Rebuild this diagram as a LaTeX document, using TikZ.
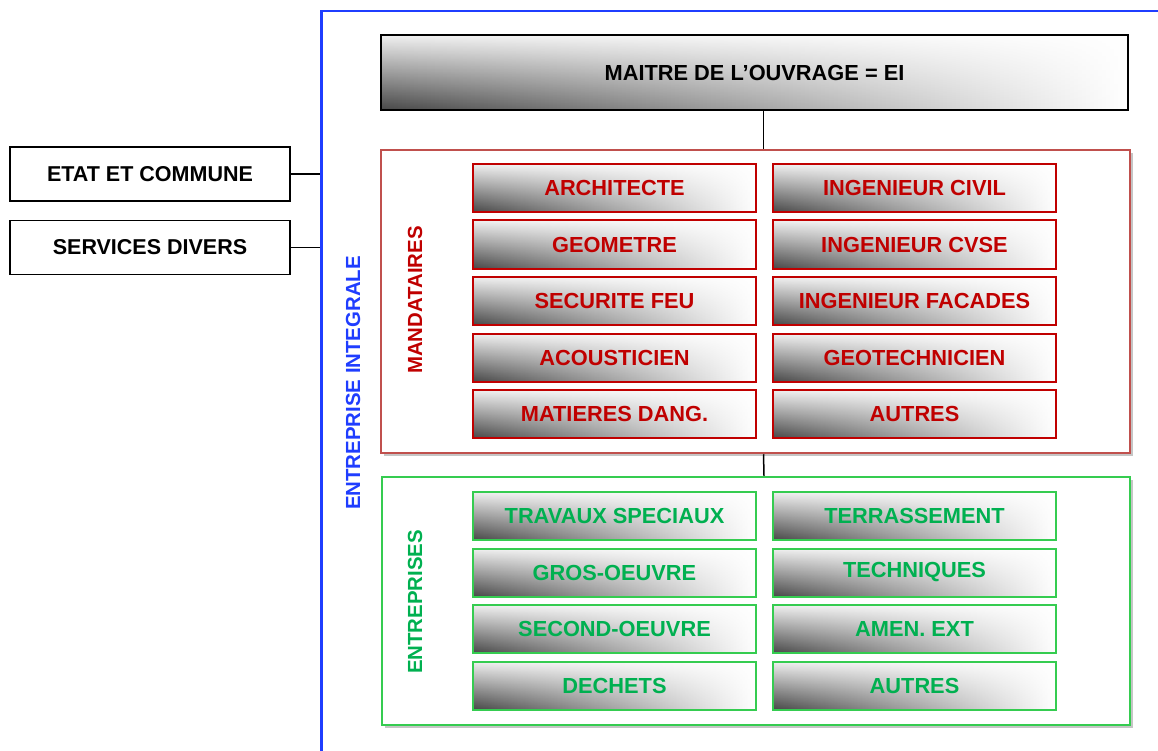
\documentclass[tikz,border=0pt]{standalone}
\usepackage{fontspec}
\setmainfont{Liberation Sans}
\usetikzlibrary{shadows,fadings}

\definecolor{eiblue}{HTML}{1F3DFF}
\definecolor{mandframe}{HTML}{C0504D}
\definecolor{mandred}{HTML}{C00000}
\definecolor{entrframe}{HTML}{35CC50}
\definecolor{entrgreen}{HTML}{00B050}

\tikzset{
    grad/.style={path picture={
        \fill[left color=black!72, right color=white]
            (path picture bounding box.south west) rectangle (path picture bounding box.north east);
        \fill[white, fill opacity=0.92, path fading=south]
            (path picture bounding box.south west) rectangle (path picture bounding box.north east);
    }},
    lbl/.style={font=\fontsize{21.8}{26}\selectfont\bfseries},
    vlbl/.style={font=\fontsize{20.4}{24}\selectfont\bfseries, rotate=90},
    sidebox/.style={draw, line width=1.8pt, minimum width=280pt, minimum height=54pt,
        inner sep=0pt, font=\fontsize{21.5}{26}\selectfont\bfseries},
    mbox/.style={grad, draw=mandred, line width=2pt, minimum width=283pt, minimum height=48pt,
        inner sep=0pt, text=mandred, lbl},
    ebox/.style={grad, draw=entrframe, line width=2pt, minimum width=283pt, minimum height=48pt,
        inner sep=0pt, text=entrgreen, lbl},
    group/.style={draw=#1, line width=2.5pt, fill=white, inner sep=0pt,
        drop shadow={shadow xshift=3pt, shadow yshift=-3pt, fill=black!45, opacity=0.5}}
}

\begin{document}
\begin{tikzpicture}[x=1pt, y=-1pt]

    \useasboundingbox (0,0) rectangle (1158,751);

    % Entreprise integrale frame
    \node[draw=eiblue, line width=2.5pt, minimum width=900pt, minimum height=800pt,
        inner sep=0pt, anchor=north west] (ei) at (320,10) {};
    \node[vlbl, text=eiblue] (eilabel) at (353,383) {ENTREPRISE INTEGRALE};

    % Outside partners
    \node[sidebox] (etat) at (150,174) {ETAT ET COMMUNE};
    \node[sidebox] (serv) at (150,247.5) {SERVICES DIVERS};
    \draw[line width=1.8pt] (etat.east) -- (etat.east -| ei.west);
    \draw[line width=1.5pt] (serv.east) -- (serv.east -| ei.west);

    % Owner
    \node[grad, draw, line width=2.2pt, minimum width=747pt, minimum height=75pt,
        inner sep=0pt, lbl] (mo) at (754.5,72.5) {MAITRE DE L’OUVRAGE = EI};

    % Groups
    \node[group=mandframe, minimum width=749pt, minimum height=303pt] (mand) at (755.5,301.5) {};
    \node[group=entrframe, minimum width=748pt, minimum height=248pt] (entr) at (756,601) {};
    \draw[line width=1.5pt] ([xshift=9pt]mo.south) -- ([xshift=8pt]mand.north);
    \draw[line width=1.5pt] ([xshift=8pt]mand.south) -- ([xshift=8pt]entr.north);

    \node[vlbl, text=mandred] (mandlabel) at (415,300) {MANDATAIRES};
    \node[vlbl, text=entrgreen] (entrlabel) at (415,602) {ENTREPRISES};

    % Mandataires
    \foreach \i/\l/\r in {
        0/ARCHITECTE/INGENIEUR CIVIL,
        1/GEOMETRE/INGENIEUR CVSE,
        2/SECURITE FEU/INGENIEUR FACADES,
        3/ACOUSTICIEN/GEOTECHNICIEN,
        4/MATIERES DANG./AUTRES
    }
    {
        \node[mbox] (ml\i) at (614.5,188+56.5*\i) {\l};
        \node[mbox] (mr\i) at (914.5,188+56.5*\i) {\r};
    }

    % Entreprises
    \foreach \i/\l/\r in {
        0/TRAVAUX SPECIAUX/TERRASSEMENT,
        1/GROS-OEUVRE/TECHNIQUES,
        2/SECOND-OEUVRE/AMEN. EXT,
        3/DECHETS/AUTRES
    }
    {
        \node[ebox] (el\i) at (614.5,516+56.5*\i) {\l};
        \node[ebox] (er\i) at (914.5,516+56.5*\i) {\r};
    }

\end{tikzpicture}
\end{document}
